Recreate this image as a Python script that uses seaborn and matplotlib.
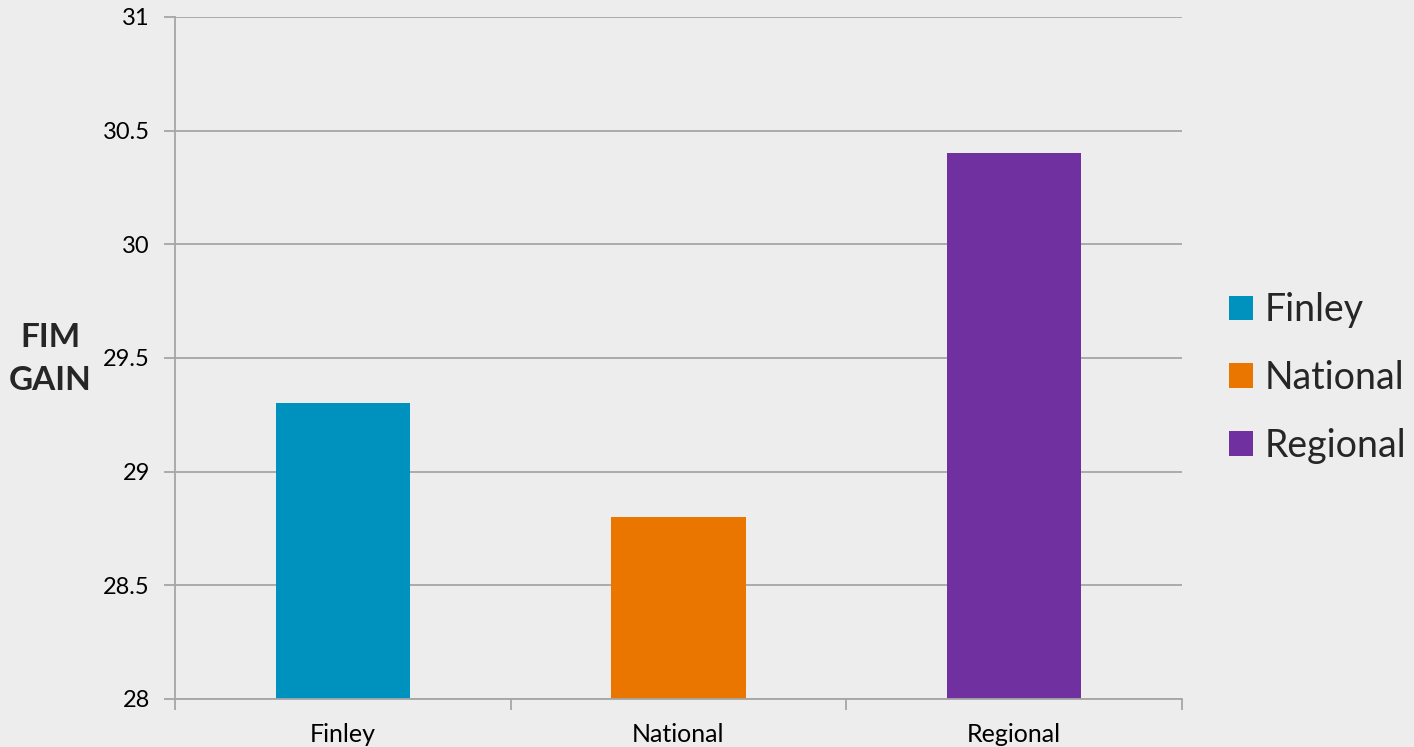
import matplotlib
matplotlib.use("Agg")
import matplotlib.pyplot as plt
import seaborn as sns
import numpy as np
import pandas as pd
from matplotlib.ticker import FuncFormatter, FixedLocator

categories = ["Finley", "National", "Regional"]
values = [29.3, 28.8, 30.4]
colors = ["#0092BF", "#EA7600", "#7030A0"]
y_ticks = [28, 28.5, 29, 29.5, 30, 30.5, 31]

sns.set_theme(style="white")
plt.rcParams['font.family'] = ['Lato', 'DejaVu Sans']

bg = "#EDEDED"
grid_c = "#A6A6A6"

fig = plt.figure(figsize=(14.14, 7.47), dpi=100, facecolor=bg)
ax = fig.add_axes([175/1414, 1-699/747, (1182-175)/1414, (699-17)/747])
ax.set_facecolor(bg)

df = pd.DataFrame({"cat": categories, "val": values})
sns.barplot(data=df, x="cat", y="val", hue="cat", palette=colors, width=0.4,
            legend=True, ax=ax, saturation=1, linewidth=0, edgecolor="none")

ax.set_ylim(28, 31)
ax.set_xlim(-0.5, 2.5)
ax.yaxis.set_major_locator(FixedLocator(y_ticks))
ax.yaxis.set_major_formatter(FuncFormatter(lambda v, p: f"{v:g}"))
ax.grid(axis="y", color=grid_c, linewidth=1.3)
ax.set_axisbelow(True)
for s in ["top", "right"]:
    ax.spines[s].set_visible(False)
for s in ["left", "bottom"]:
    ax.spines[s].set_color(grid_c)
    ax.spines[s].set_linewidth(1.3)

ax.tick_params(axis="y", which="major", left=True, length=8, width=1.3, color=grid_c,
               labelsize=17, pad=10, labelcolor="black")
ax.tick_params(axis="x", which="major", bottom=False, length=0, labelsize=18, pad=17,
               labelcolor="black")
ax.set_xticks([-0.5, 0.5, 1.5, 2.5], minor=True)
ax.tick_params(axis="x", which="minor", bottom=True, length=8, width=1.3, color=grid_c)
ax.set_xlabel("")
ax.set_ylabel("")

fig.text(50/1414, 1-359/747, "FIM\nGAIN", ha="center", va="center", fontsize=24,
         fontweight="bold", linespacing=1.55)

leg = ax.legend(loc="center left", bbox_to_anchor=(1229/1414, 1-378/747),
                bbox_transform=fig.transFigure, frameon=False, fontsize=27,
                handlelength=0.64, handleheight=0.64, handletextpad=0.3,
                labelspacing=0.85, borderpad=0, borderaxespad=0)

fig.savefig("out.png", dpi=100, facecolor=bg)
